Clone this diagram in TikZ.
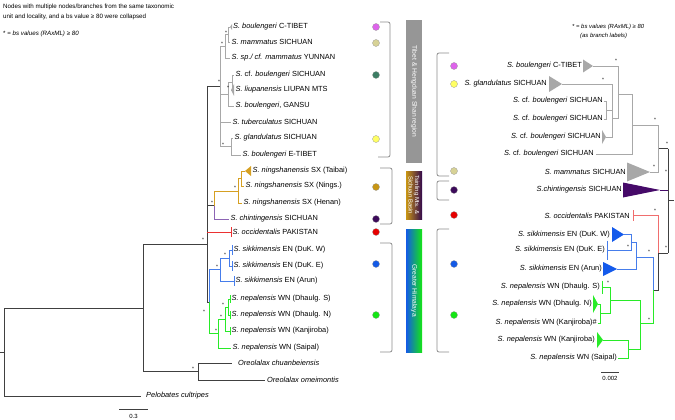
\documentclass[tikz,border=0pt]{standalone}
\usepackage{fontspec}
\setmainfont{Liberation Sans}
\usetikzlibrary{positioning}
\definecolor{treegray}{RGB}{168,168,168}
\definecolor{treedark}{RGB}{64,64,64}
\definecolor{ningold}{RGB}{214,160,34}
\definecolor{chinlilac}{RGB}{140,100,180}
\definecolor{chinplum}{RGB}{70,10,105}
\definecolor{occred}{RGB}{235,50,50}
\definecolor{occpink}{RGB}{240,110,110}
\definecolor{sikblue}{RGB}{70,125,235}
\definecolor{sikdeep}{RGB}{20,90,235}
\definecolor{nepgreen}{RGB}{40,235,40}
\definecolor{bargray}{RGB}{150,150,150}
\definecolor{dotmagenta}{RGB}{222,100,235}
\definecolor{dotkhaki}{RGB}{215,210,150}
\definecolor{dotteal}{RGB}{60,125,100}
\definecolor{dotyellow}{RGB}{255,255,100}
\definecolor{dotgold}{RGB}{200,150,20}
\definecolor{dotplum}{RGB}{60,10,90}
\definecolor{dotred}{RGB}{230,0,0}
\definecolor{dotblue}{RGB}{20,90,230}
\definecolor{dotgreen}{RGB}{20,230,20}

\newcommand\taxfont{\fontsize{7.4}{8}\selectfont}
\newcommand\notefont{\fontsize{6.2}{10}\selectfont}
\newcommand\bsfont{\fontsize{5}{5}\selectfont}
% collapsed clade: colour, apex, depth, half height
\newcommand\clade[4]{\fill[#1] (#2) -- ++(#3,#4) -- ++(0,-2*#4) -- cycle;}
\newcommand\cladetick[3]{\draw[#1] (#2) ++(0,-#3) -- ++(0,2*#3);}

\begin{document}
\begin{tikzpicture}[x=1pt,y=-1pt]

\tikzset{line/.style={draw,line width=0.9pt}}
\tikzset{graybranch/.style={line,treegray}}
\tikzset{darkbranch/.style={line,treedark}}
\tikzset{goldbranch/.style={line,ningold}}
\tikzset{lilacbranch/.style={line,chinlilac}}
\tikzset{redbranch/.style={line,occred}}
\tikzset{pinkbranch/.style={line,occpink}}
\tikzset{bluebranch/.style={line,sikblue}}
\tikzset{greenbranch/.style={line,nepgreen}}
\tikzset{textnode/.style={inner sep=0pt}}
\tikzset{taxon/.style={textnode,anchor=west,font=\taxfont}}
\tikzset{taxonr/.style={textnode,anchor=east,font=\taxfont}}
\tikzset{bslabel/.style={textnode,font=\bsfont}}
\tikzset{dot/.style={circle,draw=black!40,line width=0.3pt,inner sep=0pt,minimum size=7pt}}
\tikzset{bracket/.style={draw,black!45,line width=0.8pt,rounded corners=2pt}}
\tikzset{regionbar/.style={rectangle,inner sep=0pt,minimum width=16pt}}
\tikzset{bartext/.style={textnode,text=white,rotate=-90,align=center,font=\fontsize{6.7}{7}\selectfont}}

\useasboundingbox (0,0) rectangle (675,420);

% notes
\node[textnode,anchor=north west,align=left,font=\notefont] (note) at (3,3.5)
  {Nodes with multiple nodes/branches from the same taxonomic\\unit and locality, and a bs value ≥ 80 were collapsed};
\node[textnode,anchor=west,font=\notefont] (notebs) at (3,34) {* = \textit{bs values (RAxML) ≥ 80}};
\node[textnode,anchor=west,font=\fontsize{5.9}{7}\selectfont\itshape] (rnotebs) at (572,27) {* = bs values (RAxML) ≥ 80};
\node[textnode,anchor=west,font=\fontsize{5.9}{7}\selectfont\itshape] (rnotelab) at (580,36) {(as branch labels)};

%%%%% left tree
\coordinate (lroot) at (4,352);
\coordinate (lrootstub) at (0,352);
\coordinate (nout) at (143,308);
\coordinate (noreo) at (198,371.5);
\coordinate (ingtop) at (207,86);
\coordinate (ingstem) at (207,244);
\coordinate (ingbot) at (207,302);
\coordinate (tpel) at (141,396);
\coordinate (tchu) at (232,363);
\coordinate (tome) at (265,380);

\draw[darkbranch] (lrootstub) -- (lroot);
\draw[darkbranch] (lroot) |- (nout);
\draw[darkbranch] (lroot) |- (tpel);
\draw[darkbranch] (nout) |- (ingstem);
\draw[darkbranch] (nout) |- (noreo);
\draw[darkbranch] (noreo) |- (tchu);
\draw[darkbranch] (noreo) |- (tome);
\draw[darkbranch] (ingtop) -- (ingbot);

% Tibet & Hengduan Shan
\coordinate (ntib) at (220,86);
\coordinate (nb) at (225,46);
\coordinate (nb1) at (228,34.5);
\coordinate (nc) at (228,94);
\coordinate (nc1) at (232,82.5);
\coordinate (nd) at (231,146.5);
\coordinate (tct) at (230,27);
\coordinate (tmam) at (230,42);
\coordinate (tsp) at (230,58);
\coordinate (tcfb) at (234,75);
\coordinate (tliu) at (231,90);
\coordinate (tgan) at (234,106);
\coordinate (ttub) at (231,122);
\coordinate (tgla) at (233,138);
\coordinate (tet) at (241,155);

\draw[darkbranch] (ingtop) -- (ntib);
\draw[graybranch] (ntib) |- (nb);
\draw[graybranch] (ntib) |- (nc);
\draw[graybranch] (ntib) |- (ttub);
\draw[graybranch] (ntib) |- (nd);
\draw[graybranch] (nb) |- (nb1);
\draw[graybranch] (nb) |- (tsp);
\draw[graybranch] (nb1) |- (tct);
\draw[graybranch] (nb1) |- (tmam);
\draw[graybranch] (nc) |- (nc1);
\draw[graybranch] (nc) |- (tgan);
\draw[graybranch] (nc1) |- (tcfb);
\draw[graybranch] (nc1) |- (tliu);
\draw[graybranch] (nd) |- (tgla);
\draw[graybranch] (nd) |- (tet);
\clade{treegray}{tct}{2}{3}
\clade{treegray}{tliu}{3}{6}

% Tsinling & Sichuan Basin
\coordinate (nnc) at (214,205.5);
\coordinate (nn) at (238,191);
\coordinate (nn1) at (241,178.5);
\coordinate (ttai) at (245,171);
\coordinate (tnin) at (244,186);
\coordinate (then) at (242,203);
\coordinate (tchi) at (229,219);

\draw[darkbranch] (ingstem |- nnc) -- (nnc);
\draw[goldbranch] (nnc) |- (nn);
\draw[goldbranch] (nn) |- (nn1);
\draw[goldbranch] (nn) |- (then);
\draw[goldbranch] (nn1) |- (ttai);
\draw[goldbranch] (nn1) |- (tnin);
\clade{ningold}{ttai}{6}{5}
\draw[lilacbranch] (nnc) |- (tchi);

% occidentalis
\coordinate (tocc) at (231,232);
\draw[redbranch] (ingstem |- tocc) -- (tocc);
\cladetick{redbranch}{tocc}{5}

% Greater Himalaya
\coordinate (nh) at (209,302);
\coordinate (ns) at (220,269.5);
\coordinate (ns1) at (229,258);
\coordinate (tdw) at (232,250);
\coordinate (tde) at (232,266);
\coordinate (tar) at (234,281);
\coordinate (ng) at (218,333.5);
\coordinate (ng1) at (225,319);
\coordinate (ng2) at (228,307);
\coordinate (tds) at (230,299);
\coordinate (tdn) at (230,315);
\coordinate (tka) at (230,331);
\coordinate (tsa) at (231,348);

\draw[darkbranch] (ingbot) -- (nh);
\draw[bluebranch] (nh) |- (ns);
\draw[bluebranch] (ns) |- (ns1);
\draw[bluebranch] (ns) |- (tar);
\draw[bluebranch] (ns1) |- (tdw);
\draw[bluebranch] (ns1) |- (tde);
\cladetick{bluebranch}{tdw}{5}
\cladetick{bluebranch}{tde}{5}
\cladetick{bluebranch}{tar}{5}
\draw[greenbranch] (nh) |- (ng);
\draw[greenbranch] (ng) |- (ng1);
\draw[greenbranch] (ng) |- (tsa);
\draw[greenbranch] (ng1) |- (ng2);
\draw[greenbranch] (ng1) |- (tka);
\draw[greenbranch] (ng2) |- (tds);
\draw[greenbranch] (ng2) |- (tdn);
\cladetick{greenbranch}{tds}{4}
\cladetick{greenbranch}{tdn}{4}
\cladetick{greenbranch}{tka}{4}

% left labels
\node[taxon] (lct) at ([xshift=3pt]tct) {\textit{S. boulengeri} C-TIBET};
\node[taxon] (lmam) at ([xshift=1.5pt]tmam) {\textit{S. mammatus} SICHUAN};
\node[taxon] (lsp) at ([xshift=1.5pt]tsp) {\textit{S. sp./ cf. mammatus} YUNNAN};
\node[taxon] (lcfb) at ([xshift=1.5pt]tcfb) {\textit{S.} cf. \textit{boulengeri} SICHUAN};
\node[taxon] (lliu) at ([xshift=4.5pt]tliu) {\textit{S. liupanensis} LIUPAN MTS};
\node[taxon] (lgan) at ([xshift=1.5pt]tgan) {\textit{S. boulengeri}, GANSU};
\node[taxon] (ltub) at ([xshift=1.5pt]ttub) {\textit{S. tuberculatus} SICHUAN};
\node[taxon] (lgla) at ([xshift=1.5pt]tgla) {\textit{S. glandulatus} SICHUAN};
\node[taxon] (let) at ([xshift=1.5pt]tet) {\textit{S. boulengeri} E-TIBET};
\node[taxon] (ltai) at ([xshift=7.5pt]ttai) {\textit{S. ningshanensis} SX (Taibai)};
\node[taxon] (lnin) at ([xshift=1.5pt]tnin) {\textit{S. ningshanensis} SX (Nings.)};
\node[taxon] (lhen) at ([xshift=1.5pt]then) {\textit{S. ningshanensis} SX (Henan)};
\node[taxon] (lchi) at ([xshift=1.5pt]tchi) {\textit{S. chintingensis} SICHUAN};
\node[taxon] (locc) at ([xshift=1.5pt]tocc) {\textit{S. occidentalis} PAKISTAN};
\node[taxon] (ldw) at ([xshift=1.5pt]tdw) {\textit{S. sikkimensis} EN (DuK. W)};
\node[taxon] (lde) at ([xshift=1.5pt]tde) {\textit{S. sikkimensis} EN (DuK. E)};
\node[taxon] (lar) at ([xshift=1.5pt]tar) {\textit{S. sikkimensis} EN (Arun)};
\node[taxon] (lds) at ([xshift=1.5pt]tds) {\textit{S. nepalensis} WN (Dhaulg. S)};
\node[taxon] (ldn) at ([xshift=1.5pt]tdn) {\textit{S. nepalensis} WN (Dhaulg. N)};
\node[taxon] (lka) at ([xshift=1.5pt]tka) {\textit{S. nepalensis} WN (Kanjiroba)};
\node[taxon] (lsa) at ([xshift=1.5pt]tsa) {\textit{S. nepalensis} WN (Saipal)};
\node[taxon] (lchu) at ([xshift=6pt]tchu) {\textit{Oreolalax chuanbeiensis}};
\node[taxon] (lome) at ([xshift=2pt]tome) {\textit{Oreolalax omeimontis}};
\node[taxon] (lpel) at ([xshift=5pt]tpel) {\textit{Pelobates cultripes}};

% left support values
\foreach \p [count=\i] in {(226,33),(222,44),(219,82),(228,88),(223,145),(235,188),(212,203),(203,240),
  (225,255),(217,267),(223,305),(221,317),(216,331),(204,312),(193,369)}
  \node[bslabel] (bsl\i) at \p {*};

% left scale
\coordinate (sbl1) at (119,409);
\coordinate (sbl2) at (148,409);
\draw[darkbranch,line width=0.7pt] (sbl1) -- (sbl2);
\node[textnode,font=\fontsize{6}{7}\selectfont] (sbllab) at (133.5,416.5) {0.3};

%%%%% regions
\foreach \y/\c [count=\i] in {27/dotmagenta,43/dotkhaki,75/dotteal,139/dotyellow,187/dotgold,
  219/dotplum,232/dotred,264/dotblue,315/dotgreen}
  \node[dot,fill=\c] (dotl\i) at (376,\y) {};

\draw[bracket] (380,22) -| (390,157) -- (378,157);
\draw[bracket] (380,168) -| (392,224) -- (380,224);
\draw[bracket] (380,243) -| (392,352) -- (380,352);

\node[regionbar,fill=bargray,minimum height=143pt] (tibetbar) at (414,91.5) {};
\node[regionbar,left color=dotgold,right color=dotplum!85!black,minimum height=48pt] (tsinbar) at (414,195) {};
\node[regionbar,left color=dotblue,right color=dotgreen,minimum height=123pt] (himbar) at (414,290.5) {};
\node[bartext] (tibettext) at (tibetbar.center) {Tibet \& Hengduan Shan region};
\node[bartext,font=\fontsize{5.9}{6.6}\selectfont] (tsintext) at (tsinbar.center) {Tsinling Mts. \&\\Sichuan Basin};
\node[bartext] (himtext) at (himbar.center) {Greater Himalaya};

\draw[bracket] (449,53) -| (437,176) -- (449,176);
\draw[bracket] (449,181) -| (437,200) -- (449,200);
\draw[bracket] (449,229) -| (437,352) -- (449,352);

\foreach \y/\c [count=\i] in {66/dotmagenta,84/dotyellow,171/dotkhaki,190/dotplum,215/dotred,
  264/dotblue,315/dotgreen}
  \node[dot,fill=\c] (dotr\i) at (454,\y) {};

%%%%% right tree
\coordinate (rroot) at (668,200);
\coordinate (rrootstub) at (674,200);
\coordinate (rtop) at (668,148.5);
\coordinate (rbot) at (668,253);
\coordinate (rm) at (658,148.5);
\coordinate (rc) at (632,125);
\coordinate (rp4) at (618,94);
\coordinate (rpb) at (612,118);
\coordinate (rpa) at (606,110);
\coordinate (rct) at (593,66);
\coordinate (rgla) at (562,84);
\coordinate (rcf1) at (604,101);
\coordinate (rcf2) at (604,119);
\coordinate (rcf3) at (606,137);
\coordinate (rcf4) at (596,154);
\coordinate (rmam) at (650,172);
\coordinate (rchi) at (660,190);

\draw[darkbranch] (rtop) -- (rbot);
\draw[darkbranch] (rroot) -- (rrootstub);
\draw[darkbranch] (rtop) -- (rm);
\draw[graybranch] (rm) |- (rc);
\draw[graybranch] (rm) |- (rmam);
\draw[graybranch] (rc) |- (rp4);
\draw[graybranch] (rc) |- (rcf4);
\draw[graybranch] (rp4) |- (rct);
\draw[graybranch] (rp4) |- (rpb);
\draw[graybranch] (rpb) |- (rgla);
\draw[graybranch] (rpb) |- (rpa);
\draw[graybranch] (rpb) |- (rcf3);
\draw[graybranch] (rpa) |- (rcf1);
\draw[graybranch] (rpa) |- (rcf2);
\clade{treegray}{rct}{-10}{6.5}
\clade{treegray}{rgla}{-13}{8}
\clade{treegray}{rcf3}{-4}{7}
\clade{treegray}{rmam}{-23}{9.5}
\draw[line,chinplum,line width=0.6pt] (rchi) -- (rroot |- rchi);
\clade{chinplum}{rchi}{-37}{7.5}

\coordinate (roh) at (658,253);
\coordinate (rocc) at (633,215.5);
\coordinate (rhr) at (653,290);
\coordinate (rb2) at (636,257);
\coordinate (rb1) at (631,242.5);
\coordinate (rdw) at (624,234.5);
\coordinate (rde) at (607,250);
\coordinate (rar) at (617,269);
\coordinate (rgr) at (640,323.5);
\coordinate (rg1) at (610,300);
\coordinate (rg2) at (600,313.5);
\coordinate (rg3) at (628,349);
\coordinate (rds) at (602,287);
\coordinate (rdn) at (598,304);
\coordinate (rks) at (598,323);
\coordinate (rka) at (603,340);
\coordinate (rsa) at (618,358);

\draw[darkbranch] (rbot) -- (roh);
\draw[pinkbranch] (roh) |- (rocc);
\cladetick{pinkbranch}{rocc}{5.5}
\draw[darkbranch] (roh) |- (rhr);
\draw[bluebranch] (rhr) |- (rb2);
\draw[bluebranch] (rb2) |- (rb1);
\draw[bluebranch] (rb2) |- (rar);
\draw[bluebranch] (rb1) |- (rdw);
\draw[bluebranch] (rb1) |- (rde);
\cladetick{bluebranch}{rde}{9.5}
\clade{sikdeep}{rdw}{-12}{7.5}
\clade{sikdeep}{rar}{-14}{7}
\draw[greenbranch] (rhr) |- (rgr);
\draw[greenbranch] (rgr) |- (rg1);
\draw[greenbranch] (rgr) |- (rg3);
\draw[greenbranch] (rg1) |- (rds);
\draw[greenbranch] (rg1) |- (rg2);
\draw[greenbranch] (rg2) |- (rdn);
\draw[greenbranch] (rg2) |- (rks);
\draw[greenbranch] (rg3) |- (rka);
\draw[greenbranch] (rg3) |- (rsa);
\cladetick{greenbranch}{rds}{6.5}
\clade{nepgreen}{rdn}{-5}{9}
\clade{nepgreen}{rka}{-6}{8}

% right labels
\node[taxonr] (rlct) at ([xshift=-11pt]rct) {\textit{S. boulengeri} C-TIBET};
\node[taxonr] (rlgla) at ([xshift=-15pt]rgla) {\textit{S. glandulatus} SICHUAN};
\node[taxonr] (rlcf1) at ([xshift=-1pt]rcf1) {\textit{S.} cf. \textit{boulengeri} SICHUAN};
\node[taxonr] (rlcf2) at ([xshift=-1pt]rcf2) {\textit{S.} cf. \textit{boulengeri} SICHUAN};
\node[taxonr] (rlcf3) at ([xshift=-5pt]rcf3) {\textit{S.} cf. \textit{boulengeri} SICHUAN};
\node[taxonr] (rlcf4) at ([xshift=-2pt]rcf4) {\textit{S.} cf. \textit{boulengeri} SICHUAN};
\node[taxonr] (rlmam) at ([xshift=-24pt]rmam) {\textit{S. mammatus} SICHUAN};
\node[taxonr] (rlchi) at ([xshift=-38pt]rchi) {\textit{S.chintingensis} SICHUAN};
\node[taxonr] (rlocc) at ([xshift=-3pt]rocc) {\textit{S. occidentalis} PAKISTAN};
\node[taxonr] (rldw) at ([xshift=-14pt]rdw) {\textit{S. sikkimensis} EN (DuK. W)};
\node[taxonr] (rlde) at ([xshift=-2pt]rde) {\textit{S. sikkimensis} EN (DuK. E)};
\node[taxonr] (rlar) at ([xshift=-15pt]rar) {\textit{S. sikkimensis} EN (Arun)};
\node[taxonr] (rlds) at ([xshift=-2pt]rds) {\textit{S. nepalensis} WN (Dhaulg. S)};
\node[taxonr] (rldn) at ([xshift=-6pt]rdn) {\textit{S. nepalensis} WN (Dhaulg. N)};
\node[taxonr] (rlks) at ([xshift=-1pt]rks) {\textit{S. nepalensis} WN (Kanjiroba)\#};
\node[taxonr] (rlka) at ([xshift=-8pt]rka) {\textit{S. nepalensis} WN (Kanjiroba)};
\node[taxonr] (rlsa) at ([xshift=-1pt]rsa) {\textit{S. nepalensis} WN (Saipal)};

% right support values
\foreach \p [count=\i] in {(616,61),(603,80),(655,120),(667,144),(654,167),(666,172),(655,211),
  (628,247),(649,252),(666,248),(608,283),(649,320)}
  \node[bslabel] (bsr\i) at \p {*};

% right scale
\coordinate (sbr1) at (601,372);
\coordinate (sbr2) at (619,372);
\draw[darkbranch,line width=0.7pt] (sbr1) -- (sbr2);
\node[textnode,font=\fontsize{6}{7}\selectfont] (sbrlab) at (610,378.5) {0.002};

\end{tikzpicture}
\end{document}
